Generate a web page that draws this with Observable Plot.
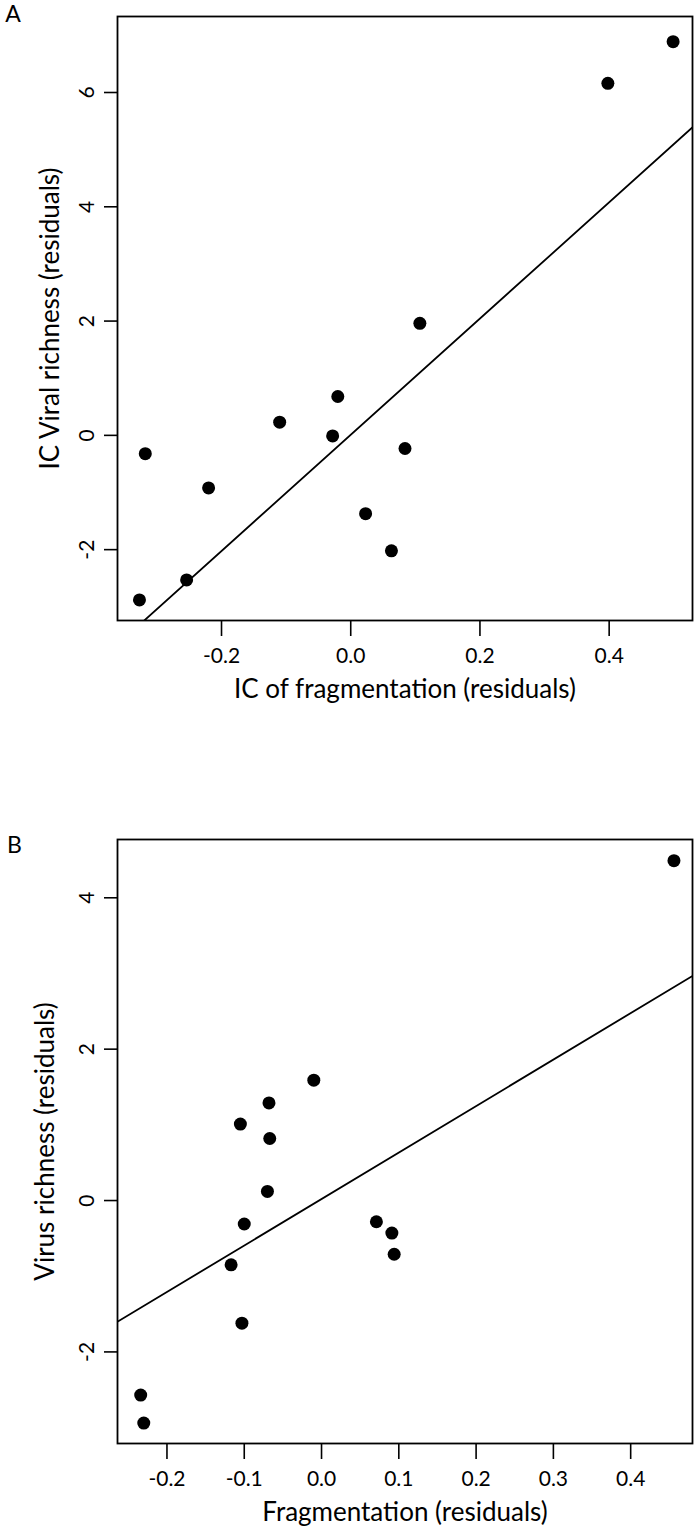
<!DOCTYPE html>
<html>
<head>
<meta charset="utf-8">
<script src="https://cdn.jsdelivr.net/npm/d3@7"></script>
<script src="https://cdn.jsdelivr.net/npm/@observablehq/plot@0.6"></script>
<style>
  html, body { margin: 0; padding: 0; background: #fff; }
  #wrap { position: relative; width: 700px; height: 1536px; font-family: Lato, "Open Sans", sans-serif; }
  #wrap svg { display: block; }
</style>
</head>
<body>
<div id="wrap"></div>
<script>
// ---- Panel A data ----
const fragA = [0.499, 0.398, 0.107, -0.020, -0.110, -0.028, 0.084, -0.318, -0.220, 0.023, 0.063, -0.254, -0.327];
const richA = [6.89, 6.16, 1.96, 0.68, 0.23, -0.01, -0.23, -0.32, -0.92, -1.37, -2.02, -2.53, -2.88];
const fitA = {intercept: 0.01, slope: 10.17};
const xTicksA = [-0.2, 0.0, 0.2, 0.4];
const yTicksA = [-2, 0, 2, 4, 6];
const xDomainA = [-0.361, 0.529];
const yDomainA = [-3.24, 7.33];
const xTitleA = "IC of fragmentation (residuals)";
const yTitleA = "IC Viral richness (residuals)";

// ---- Panel B data ----
const fragB = [0.456, -0.010, -0.068, -0.105, -0.067, -0.070, -0.100, -0.117, -0.103, 0.071, 0.091, 0.094, -0.234, -0.230];
const richB = [4.49, 1.59, 1.29, 1.01, 0.82, 0.12, -0.31, -0.85, -1.62, -0.28, -0.43, -0.71, -2.57, -2.94];
const fitB = {intercept: 0.02, slope: 6.14};
const xTicksB = [-0.2, -0.1, 0.0, 0.1, 0.2, 0.3, 0.4];
const yTicksB = [-2, 0, 2, 4];
const xDomainB = [-0.264, 0.480];
const yDomainB = [-3.21, 4.77];
const xTitleB = "Fragmentation (residuals)";
const yTitleB = "Virus richness (residuals)";

const FONT = "Lato, 'Open Sans', sans-serif";

function panel({xs, ys, fit, xTicks, yTicks, xDomain, yDomain, xTitle, yTitle, letter, height, mt, mb, letterDx, letterDy, yTitleDx}) {
  const pts = xs.map((x, i) => ({x, y: ys[i]}));
  const lx = [xDomain[0] - 0.1, xDomain[1] + 0.1];
  const line = lx.map(x => ({x, y: fit.intercept + fit.slope * x}));
  const center = {textAnchor: "middle", lineAnchor: "middle", fill: "black"};
  return Plot.plot({
    width: 700,
    height,
    marginLeft: 117,
    marginRight: 8,
    marginTop: mt,
    marginBottom: mb,
    style: {fontFamily: FONT, background: "#fff", overflow: "visible"},
    x: {domain: xDomain, axis: null},
    y: {domain: yDomain, axis: null},
    marks: [
      Plot.axisX({ticks: xTicks, tickSize: 16, tickFormat: () => "", label: null, strokeWidth: 1.6}),
      Plot.axisY({ticks: yTicks, tickSize: 13, tickFormat: () => "", label: null, strokeWidth: 1.6}),
      Plot.text(xTicks, {x: d => d, frameAnchor: "bottom", dy: 36, text: d => d.toFixed(1), fontSize: 21, ...center}),
      Plot.text(yTicks, {y: d => d, frameAnchor: "left", dx: -30, rotate: -90, text: d => String(d), fontSize: 21, ...center}),
      Plot.text([xTitle], {frameAnchor: "bottom", dy: 69, text: d => d, fontSize: 26, ...center}),
      Plot.text([yTitle], {frameAnchor: "left", dx: yTitleDx, rotate: -90, text: d => d, fontSize: 26, ...center}),
      Plot.text([letter], {frameAnchor: "top-left", dx: letterDx, dy: letterDy, text: d => d, fontSize: 23, ...center}),
      Plot.line(line, {x: "x", y: "y", stroke: "black", strokeWidth: 1.8, clip: true}),
      Plot.dot(pts, {x: "x", y: "y", r: 6.5, fill: "black", stroke: null}),
      Plot.frame({stroke: "black", strokeWidth: 1.8})
    ]
  });
}

const wrap = document.getElementById("wrap");
wrap.appendChild(panel({
  xs: fragA, ys: richA, fit: fitA, xTicks: xTicksA, yTicks: yTicksA,
  xDomain: xDomainA, yDomain: yDomainA, xTitle: xTitleA, yTitle: yTitleA,
  letter: "A", height: 760, mt: 16, mb: 140, letterDx: -104.5, letterDy: -1.5, yTitleDx: -67
}));
wrap.appendChild(panel({
  xs: fragB, ys: richB, fit: fitB, xTicks: xTicksB, yTicks: yTicksB,
  xDomain: xDomainB, yDomain: yDomainB, xTitle: xTitleB, yTitle: yTitleB,
  letter: "B", height: 776, mt: 79, mb: 93, letterDx: -103, letterDy: 6.5, yTitleDx: -72
}));
</script>
</body>
</html>
